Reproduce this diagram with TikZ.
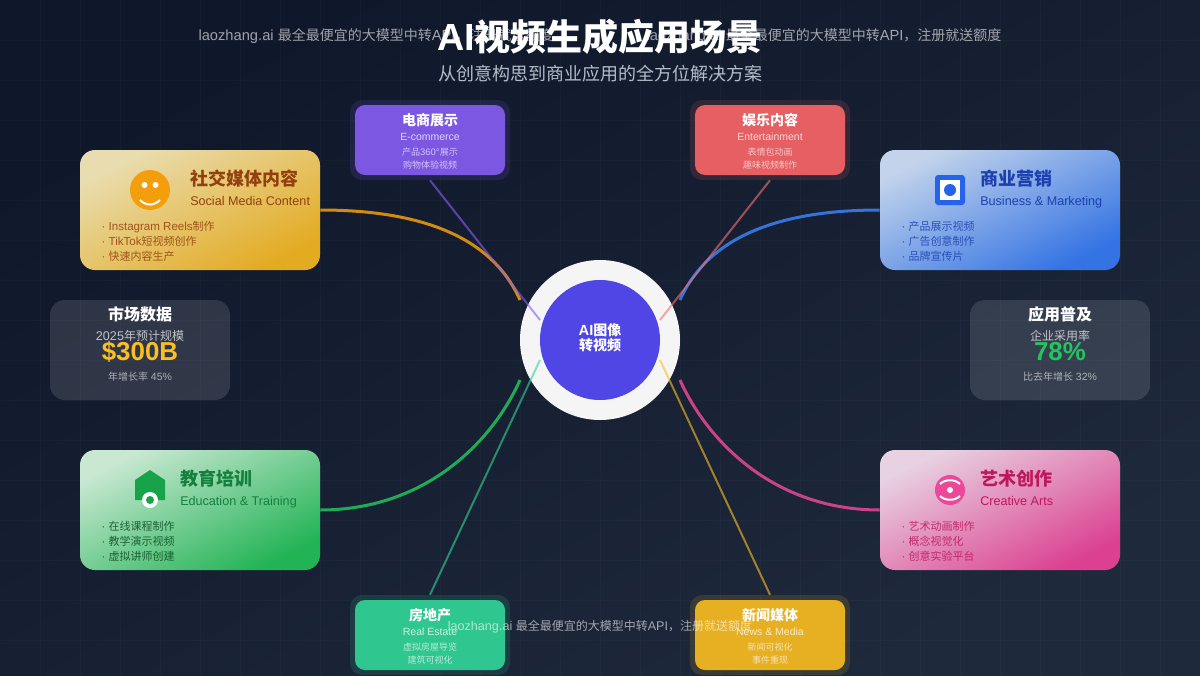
\documentclass[tikz,border=0pt]{standalone}
\usepackage{fontspec}
\setmainfont[Scale=1.05]{Liberation Sans}
\newfontfamily\cjk{Noto Sans CJK SC}
\newcommand{\dotmark}{\hspace{1pt}· }
\definecolor{bgdark}{HTML}{0F172A}
\definecolor{bglight}{HTML}{1E293B}
\definecolor{amberlo}{HTML}{E9DDB0}
\definecolor{amberhi}{HTML}{E3AB22}
\definecolor{amberink}{HTML}{92400E}
\definecolor{amberc}{HTML}{F59E0B}
\definecolor{bluelo}{HTML}{C2D3EB}
\definecolor{bluehi}{HTML}{3373E4}
\definecolor{blueink}{HTML}{1E40AF}
\definecolor{bluec}{HTML}{2563EB}
\definecolor{blueline}{HTML}{3B82F6}
\definecolor{greenlo}{HTML}{C8E8D2}
\definecolor{greenhi}{HTML}{22B355}
\definecolor{greenink}{HTML}{15803D}
\definecolor{greenc}{HTML}{22C55E}
\definecolor{greenicon}{HTML}{16A34A}
\definecolor{pinklo}{HTML}{E8D2E2}
\definecolor{pinkhi}{HTML}{DB4190}
\definecolor{pinkink}{HTML}{BE185D}
\definecolor{pinkc}{HTML}{EC4899}
\definecolor{indigo}{HTML}{4F46E5}
\definecolor{shopc}{HTML}{7C57E2}
\definecolor{func}{HTML}{E55F63}
\definecolor{housec}{HTML}{30C690}
\definecolor{newsc}{HTML}{E7B023}
\definecolor{shopline}{HTML}{8B5CF6}
\definecolor{funline}{HTML}{F87171}
\definecolor{houseline}{HTML}{34D399}
\definecolor{newsline}{HTML}{FBBF24}
\definecolor{statgold}{HTML}{FBBF24}
\definecolor{statgreen}{HTML}{22C55E}
\definecolor{subgrey}{HTML}{B4BCC9}
\tikzset{
  bigcard/.style={rectangle, rounded corners=11.25pt, minimum width=180pt, minimum height=90pt, inner sep=0pt},
  smallcard/.style={rectangle, rounded corners=7.5pt, minimum width=112.5pt, minimum height=52.5pt, inner sep=0pt},
  halo/.style={rectangle, rounded corners=9pt, minimum width=120pt, minimum height=60pt, inner sep=0pt, fill opacity=0.15},
  statcard/.style={rectangle, rounded corners=11.25pt, minimum width=135pt, minimum height=75pt, inner sep=0pt, fill=white, fill opacity=0.12},
  txt/.style={inner sep=0pt, anchor=base},
  lefttxt/.style={inner sep=0pt, anchor=base west},
  cardhead/.style={lefttxt, font=\fontsize{13.5}{16}\selectfont\bfseries},
  cardsub/.style={lefttxt, font=\fontsize{9}{11}\selectfont},
  carditem/.style={lefttxt, font=\fontsize{8.25}{10}\selectfont, text opacity=0.85},
  smallhead/.style={txt, text=white, font=\fontsize{10.5}{13}\selectfont\bfseries},
  smallsub/.style={txt, text=white, text opacity=0.75, font=\fontsize{7.5}{9}\selectfont},
  smallitem/.style={txt, text=white, text opacity=0.65, font=\fontsize{6.75}{8}\selectfont},
  stathead/.style={txt, text=white, font=\fontsize{12}{14}\selectfont\bfseries},
  statsub/.style={txt, text=white, text opacity=0.7, font=\fontsize{9}{11}\selectfont},
  statnum/.style={txt, font=\fontsize{18.5}{22}\selectfont\bfseries},
  statfoot/.style={txt, text=white, text opacity=0.6, font=\fontsize{7.5}{9}\selectfont},
  stamp/.style={txt, text=white, text opacity=0.6, font=\fontsize{10.5}{13}\selectfont},
  bigline/.style={line width=2.25pt, draw opacity=0.85},
  thinline/.style={line width=1.5pt, draw opacity=0.6},
}
\begin{document}
\begin{tikzpicture}[x=0.75pt, y=-0.75pt]
  \useasboundingbox (0,0) rectangle (1200,675);
  \shade[left color=bgdark, right color=bglight, shading angle=29] (0,0) rectangle (1200,675);
  \foreach \gx in {40,80,...,1160} \draw[white, opacity=0.025, line width=0.75pt] (\gx,0) -- (\gx,675);
  \foreach \gy in {40,80,...,640} \draw[white, opacity=0.025, line width=0.75pt] (0,\gy) -- (1200,\gy);

  % centre
  \node[circle, fill=white!96!black, minimum size=120pt, inner sep=0pt] (hubring) at (600,340) {};
  \node[circle, fill=indigo, minimum size=90pt, inner sep=0pt] (hubcore) at (600,340) {};
  \coordinate (hubnw) at (520,300);
  \coordinate (hubne) at (680,300);
  \coordinate (hubsw) at (520,380);
  \coordinate (hubse) at (680,380);
  \coordinate (corenw) at (540,320);
  \coordinate (corene) at (660,320);
  \coordinate (coresw) at (540,360);
  \coordinate (corese) at (660,360);
  \node[txt, text=white, font=\fontsize{10.5}{13}\selectfont\bfseries] (hubtop) at (600,335) {AI{\cjk 图像}};
  \node[txt, text=white, font=\fontsize{10.5}{13}\selectfont\bfseries] (hubbot) at (600,350) {\cjk 转视频};

  % big cards
  \node[bigcard, left color=amberlo, right color=amberhi, shading angle=27] (cardsocial) at (200,210) {};
  \node[bigcard, left color=bluelo, right color=bluehi, shading angle=27] (cardbiz) at (1000,210) {};
  \node[bigcard, left color=greenlo, right color=greenhi, shading angle=27] (cardedu) at (200,510) {};
  \node[bigcard, left color=pinklo, right color=pinkhi, shading angle=27] (cardart) at (1000,510) {};

  % small cards
  \node[halo, fill=shopc] (haloshop) at (430,140) {};
  \node[smallcard, fill=shopc] (cardshop) at (430,140) {};
  \node[halo, fill=func] (halofun) at (770,140) {};
  \node[smallcard, fill=func] (cardfun) at (770,140) {};
  \node[halo, fill=housec] (halohouse) at (430,635) {};
  \node[smallcard, fill=housec] (cardhouse) at (430,635) {};
  \node[halo, fill=newsc] (halonews) at (770,635) {};
  \node[smallcard, fill=newsc] (cardnews) at (770,635) {};

  % connectors
  \draw[bigline, draw=amberc] (cardsocial.east) .. controls +(106.7,0) and +(-26.7,-60) .. (hubnw);
  \draw[bigline, draw=blueline] (cardbiz.west) .. controls +(-106.7,0) and +(26.7,-60) .. (hubne);
  \draw[bigline, draw=greenc] (cardedu.east) .. controls +(106.7,0) and +(-26.7,60) .. (hubsw);
  \draw[bigline, draw=pinkc] (cardart.west) .. controls +(-106.7,0) and +(26.7,60) .. (hubse);
  \draw[thinline, draw=shopline] (haloshop.south) -- (corenw);
  \draw[thinline, draw=funline] (halofun.south) -- (corene);
  \draw[thinline, draw=houseline] (halohouse.north) -- (coresw);
  \draw[thinline, draw=newsline] (halonews.north) -- (corese);

  % social
  \node[circle, fill=amberc, minimum size=30pt, inner sep=0pt] (iconsocial) at (150,190) {};
  \node[circle, fill=white, minimum size=4.5pt, inner sep=0pt] (eyeleft) at (144.5,185) {};
  \node[circle, fill=white, minimum size=4.5pt, inner sep=0pt] (eyeright) at (155.5,185) {};
  \draw[white, line width=1.5pt] (140,200) .. controls (146,206) and (154,206) .. (160,200);
  \node[cardhead, text=amberink] (headsocial) at (190,185) {\cjk 社交媒体内容};
  \node[cardsub, text=amberink] (subsocial) at (190,205) {Social Media Content};
  \node[carditem, text=amberink] (itemsocialA) at (100,230) {\dotmark Instagram Reels{\cjk 制作}};
  \node[carditem, text=amberink] (itemsocialB) at (100,245) {\dotmark TikTok{\cjk 短视频创作}};
  \node[carditem, text=amberink] (itemsocialC) at (100,260) {\dotmark {\cjk 快速内容生产}};

  % business
  \node[rectangle, rounded corners=2.25pt, fill=bluec, minimum size=22.5pt, inner sep=0pt] (iconbiz) at (950,190) {};
  \node[rectangle, fill=white, minimum size=15pt, inner sep=0pt] (iconbizin) at (950,190) {};
  \node[circle, fill=bluec, minimum size=9pt, inner sep=0pt] (iconbizdot) at (950,190) {};
  \node[cardhead, text=blueink] (headbiz) at (980,185) {\cjk 商业营销};
  \node[cardsub, text=blueink] (subbiz) at (980,205) {Business \& Marketing};
  \node[carditem, text=blueink] (itembizA) at (900,230) {\dotmark {\cjk 产品展示视频}};
  \node[carditem, text=blueink] (itembizB) at (900,245) {\dotmark {\cjk 广告创意制作}};
  \node[carditem, text=blueink] (itembizC) at (900,260) {\dotmark {\cjk 品牌宣传片}};

  % education
  \fill[greenicon] (150,470) -- (165,480) -- (165,500) -- (135,500) -- (135,480) -- cycle;
  \node[circle, fill=white, minimum size=12pt, inner sep=0pt] (iconedu) at (150,500) {};
  \node[circle, fill=greenicon, minimum size=6pt, inner sep=0pt] (iconedudot) at (150,500) {};
  \node[cardhead, text=greenink] (headedu) at (180,485) {\cjk 教育培训};
  \node[cardsub, text=greenink] (subedu) at (180,505) {Education \& Training};
  \node[carditem, text=greenink!60!black] (itemeduA) at (100,530) {\dotmark {\cjk 在线课程制作}};
  \node[carditem, text=greenink!60!black] (itemeduB) at (100,545) {\dotmark {\cjk 教学演示视频}};
  \node[carditem, text=greenink!60!black] (itemeduC) at (100,560) {\dotmark {\cjk 虚拟讲师创建}};

  % art
  \node[circle, fill=pinkc, minimum size=22.5pt, inner sep=0pt] (iconart) at (950,490) {};
  \node[circle, fill=white, minimum size=4.5pt, inner sep=0pt] (iconartdot) at (950,490) {};
  \draw[white, line width=1.5pt] (940,484) .. controls (945,479) and (955,479) .. (960,484);
  \draw[white, line width=1.5pt] (940,496) .. controls (945,501) and (955,501) .. (960,496);
  \node[cardhead, text=pinkink] (headart) at (980,485) {\cjk 艺术创作};
  \node[cardsub, text=pinkink] (subart) at (980,505) {Creative Arts};
  \node[carditem, text=pinkink] (itemartA) at (900,530) {\dotmark {\cjk 艺术动画制作}};
  \node[carditem, text=pinkink] (itemartB) at (900,545) {\dotmark {\cjk 概念视觉化}};
  \node[carditem, text=pinkink] (itemartC) at (900,560) {\dotmark {\cjk 创意实验平台}};

  % small card texts
  \node[smallhead] (headshop) at (430,125) {\cjk 电商展示};
  \node[smallsub] (subshop) at (430,140) {E-commerce};
  \node[smallitem] (itemshopA) at (430,155) {{\cjk 产品}360°{\cjk 展示}};
  \node[smallitem] (itemshopB) at (430,168) {\cjk 购物体验视频};
  \node[smallhead] (headfun) at (770,125) {\cjk 娱乐内容};
  \node[smallsub] (subfun) at (770,140) {Entertainment};
  \node[smallitem] (itemfunA) at (770,155) {\cjk 表情包动画};
  \node[smallitem] (itemfunB) at (770,168) {\cjk 趣味视频制作};
  \node[smallhead] (headhouse) at (430,620) {\cjk 房地产};
  \node[smallsub] (subhouse) at (430,635) {Real Estate};
  \node[smallitem] (itemhouseA) at (430,650) {\cjk 虚拟房屋导览};
  \node[smallitem] (itemhouseB) at (430,663) {\cjk 建筑可视化};
  \node[smallhead] (headnews) at (770,620) {\cjk 新闻媒体};
  \node[smallsub] (subnews) at (770,635) {News \& Media};
  \node[smallitem] (itemnewsA) at (770,650) {\cjk 新闻可视化};
  \node[smallitem] (itemnewsB) at (770,663) {\cjk 事件重现};

  % stats
  \node[statcard] (statmarket) at (140,350) {};
  \node[stathead] (headmarket) at (140,320) {\cjk 市场数据};
  \node[statsub] (submarket) at (140,340) {2025{\cjk 年预计规模}};
  \node[statnum, text=statgold] (nummarket) at (140,360) {\$300B};
  \node[statfoot] (footmarket) at (140,380) {{\cjk 年增长率} 45\%};
  \node[statcard] (statuse) at (1060,350) {};
  \node[stathead] (headuse) at (1060,320) {\cjk 应用普及};
  \node[statsub] (subuse) at (1060,340) {\cjk 企业采用率};
  \node[statnum, text=statgreen] (numuse) at (1060,360) {78\%};
  \node[statfoot] (footuse) at (1060,380) {{\cjk 比去年增长} 32\%};

  % title and stamps
  \node[txt, text=white, font=\fontsize{27}{32}\selectfont\bfseries] (title) at (600,50) {AI{\cjk 视频生成应用场景}};
  \node[txt, text=subgrey, font=\fontsize{13.5}{16}\selectfont] (subtitle) at (600,80) {\cjk 从创意构思到商业应用的全方位解决方案};
  \node[stamp] (stampleft) at (376,40) {laozhang.ai {\cjk 最全最便宜的大模型中转}API{\cjk ，注册就送额度}};
  \node[stamp] (stampright) at (824,40) {laozhang.ai {\cjk 最全最便宜的大模型中转}API{\cjk ，注册就送额度}};
  \node[stamp, font=\fontsize{9}{11}\selectfont] (stampbottom) at (600,630) {laozhang.ai {\cjk 最全最便宜的大模型中转}API{\cjk ，注册就送额度}};
\end{tikzpicture}
\end{document}
